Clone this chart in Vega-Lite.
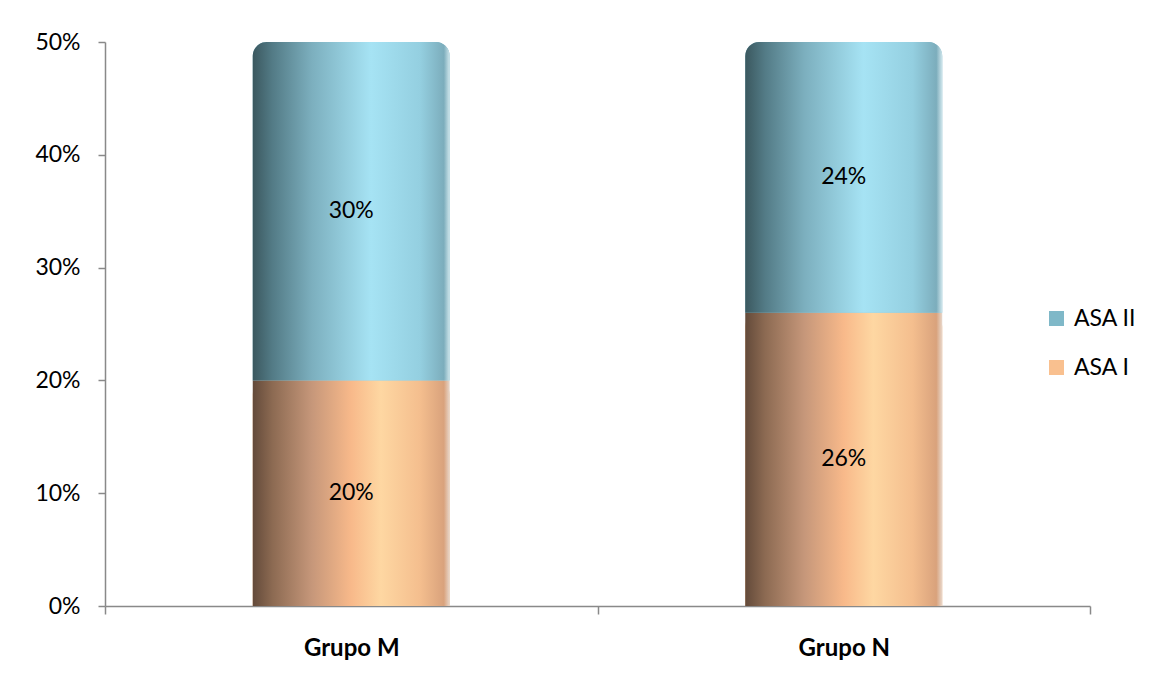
{
  "$schema": "https://vega.github.io/schema/vega-lite/v6.json",
  "autosize": "none",
  "width": 985,
  "height": 564,
  "padding": {"left": 105, "top": 42, "right": 64, "bottom": 69},
  "background": "white",
  "config": {
    "font": "Lato",
    "view": {"stroke": null},
    "axis": {"domainColor": "#898989", "domainWidth": 1.5, "tickColor": "#898989", "tickWidth": 1.5, "labelColor": "#000000", "labelFont": "Lato", "labelFontSize": 23, "grid": false, "title": null}
  },
  "data": {
    "values": [
      {"grupo": "Grupo M", "serie": "ASA I", "valor": 0.20},
      {"grupo": "Grupo M", "serie": "ASA II", "valor": 0.30},
      {"grupo": "Grupo N", "serie": "ASA I", "valor": 0.26},
      {"grupo": "Grupo N", "serie": "ASA II", "valor": 0.24}
    ]
  },
  "transform": [
    {"stack": "valor", "groupby": ["grupo"], "sort": [{"field": "serie", "order": "ascending"}], "as": ["y0", "y1"]}
  ],
  "encoding": {
    "x": {
      "field": "grupo", "type": "nominal",
      "scale": {"paddingInner": 0, "paddingOuter": 0},
      "axis": {"labelAngle": 0, "labelFontWeight": "bold", "labelFontSize": 24, "tickSize": 8, "tickBand": "extent", "labelPadding": 22}
    }
  },
  "layer": [
    {
      "mark": {"type": "bar", "width": {"band": 0.4}, "cornerRadiusTopLeft": 14, "cornerRadiusTopRight": 14},
      "encoding": {
        "y": {
          "field": "y0", "type": "quantitative",
          "scale": {"domain": [0, 0.5], "nice": false},
          "axis": {"format": ".0%", "values": [0, 0.1, 0.2, 0.3, 0.4, 0.5], "tickSize": 7, "labelPadding": 18}
        },
        "y2": {"field": "y1"},
        "color": {
          "field": "serie", "type": "nominal",
          "scale": {"domain": ["ASA II", "ASA I"], "range": ["#7fb8c8", "#f9c08f"]},
          "legend": {
            "orient": "none", "legendX": 940, "legendY": 265, "title": null,
            "symbolType": "square", "symbolSize": 225, "symbolStrokeWidth": 0,
            "labelFontSize": 23, "labelFont": "Lato", "labelColor": "#000000", "labelOffset": 6, "rowPadding": 25
          }
        }
      }
    },
    {
      "transform": [{"filter": "datum.serie === 'ASA I'"}],
      "mark": {
        "type": "bar", "width": {"band": 0.4},
        "color": {
          "gradient": "linear", "x1": 0, "x2": 1, "y1": 0, "y2": 0,
          "stops": [
            {"offset": 0, "color": "#634a3a"},
            {"offset": 0.1, "color": "#8c6a52"},
            {"offset": 0.3, "color": "#c6977a"},
            {"offset": 0.5, "color": "#f8b98a"},
            {"offset": 0.65, "color": "#fed7a2"},
            {"offset": 0.85, "color": "#f4be8e"},
            {"offset": 0.97, "color": "#d9a27c"},
            {"offset": 1, "color": "#e8d8cc"}
          ]
        }
      },
      "encoding": {
        "y": {"field": "y0", "type": "quantitative"},
        "y2": {"field": "y1"}
      }
    },
    {
      "transform": [{"filter": "datum.serie === 'ASA II'"}],
      "mark": {
        "type": "bar", "width": {"band": 0.4}, "cornerRadiusTopLeft": 14, "cornerRadiusTopRight": 14,
        "color": {
          "gradient": "linear", "x1": 0, "x2": 1, "y1": 0, "y2": 0,
          "stops": [
            {"offset": 0, "color": "#3b585f"},
            {"offset": 0.1, "color": "#537b86"},
            {"offset": 0.3, "color": "#7cafbe"},
            {"offset": 0.6, "color": "#a6e3f4"},
            {"offset": 0.85, "color": "#94cfe0"},
            {"offset": 0.97, "color": "#7cadbc"},
            {"offset": 1, "color": "#d0e6ec"}
          ]
        }
      },
      "encoding": {
        "y": {"field": "y0", "type": "quantitative"},
        "y2": {"field": "y1"}
      }
    },
    {
      "transform": [{"fold": ["y0", "y1"], "as": ["borde", "pos"]}],
      "mark": {"type": "text", "fontSize": 23, "font": "Lato", "color": "#000000", "baseline": "middle", "align": "center"},
      "encoding": {
        "y": {"aggregate": "mean", "field": "pos", "type": "quantitative"},
        "detail": {"field": "serie"},
        "text": {"aggregate": "max", "field": "valor", "type": "quantitative", "format": ".0%"}
      }
    }
  ]
}
